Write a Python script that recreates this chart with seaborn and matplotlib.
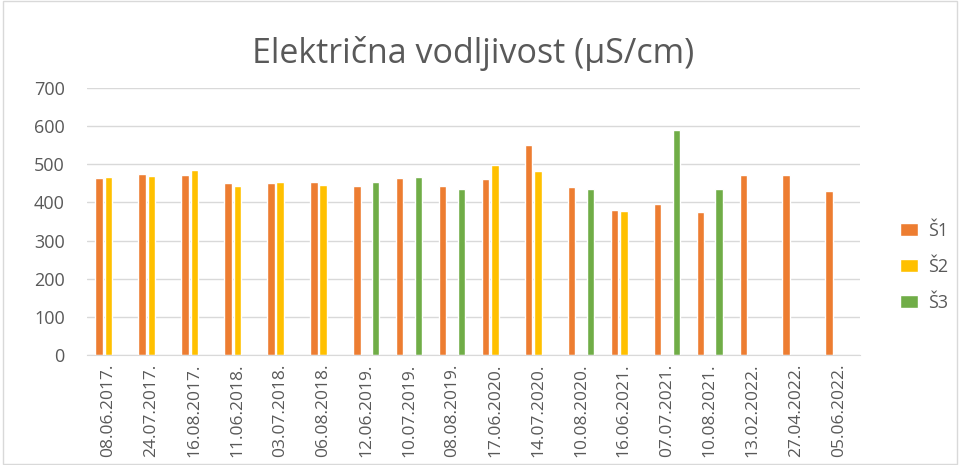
import numpy as np
import pandas as pd
import seaborn as sns
import matplotlib.pyplot as plt
from matplotlib.patches import Rectangle

# %%

datumi = ['08.06.2017.', '24.07.2017.', '16.08.2017.', '11.06.2018.', '03.07.2018.',
          '06.08.2018.', '12.06.2019.', '10.07.2019.', '08.08.2019.', '17.06.2020.',
          '14.07.2020.', '10.08.2020.', '16.06.2021.', '07.07.2021.', '10.08.2021.',
          '13.02.2022.', '27.04.2022.', '05.06.2022.']

s1 = [465, 475, 472, 451, 450, 453, 444, 465, 442, 462, 550, 440, 381, 397, 374, 472, 472, 430]
s2 = [467, 469, 486, 444, 453, 446, np.nan, np.nan, np.nan, 499, 483, np.nan, 377,
      np.nan, np.nan, np.nan, np.nan, np.nan]
s3 = [np.nan, np.nan, np.nan, np.nan, np.nan, np.nan, 453, 467, 436, np.nan, np.nan, 434,
      np.nan, 589, 436, np.nan, np.nan, np.nan]

serije = ['Š1', 'Š2', 'Š3']
boje = ['#ED7D31', '#FFC000', '#70AD47']

# %%

df = pd.DataFrame({'datum': datumi, 'Š1': s1, 'Š2': s2, 'Š3': s3})
df = df.melt(id_vars='datum', var_name='serija', value_name='vrijednost').dropna()

sns.set_style('white')
plt.rcParams['font.family'] = ['Open Sans', 'DejaVu Sans']

fig = plt.figure(figsize=(9.6, 4.65), dpi=100)
ax = fig.add_axes([0.0906, 0.2366, 0.8054, 0.5742])

sns.barplot(data=df, x='datum', y='vrijednost', hue='serija',
            order=datumi, hue_order=serije, palette=boje, saturation=1,
            width=0.66, gap=0.2, errorbar=None, ax=ax)

ax.set_ylim(0, 700)
ax.set_yticks(range(0, 701, 100))
ax.grid(axis='y', color='#D9D9D9', linewidth=1)
ax.set_axisbelow(True)
for s in ['top', 'right', 'left']:
    ax.spines[s].set_visible(False)
ax.spines['bottom'].set_color('#D9D9D9')
ax.tick_params(axis='both', length=0, colors='#595959')
ax.tick_params(axis='y', labelsize=13, pad=16)
ax.tick_params(axis='x', labelrotation=90, labelsize=12.5, pad=6)
ax.set_xlabel('')
ax.set_ylabel('')

ax.set_title('Električna vodljivost (µS/cm)', fontsize=24.5, color='#595959', pad=18)

ax.legend(loc='center left', bbox_to_anchor=(1.03, 0.33), frameon=False,
          fontsize=13, labelcolor='#595959', handlelength=1.0, handleheight=0.75,
          labelspacing=1.0, handletextpad=0.6)

fig.patches.append(Rectangle((0.003, 0.003), 0.994, 0.994, transform=fig.transFigure,
                             fill=False, edgecolor='#D9D9D9', linewidth=1))

plt.savefig('out.png', dpi=100)
